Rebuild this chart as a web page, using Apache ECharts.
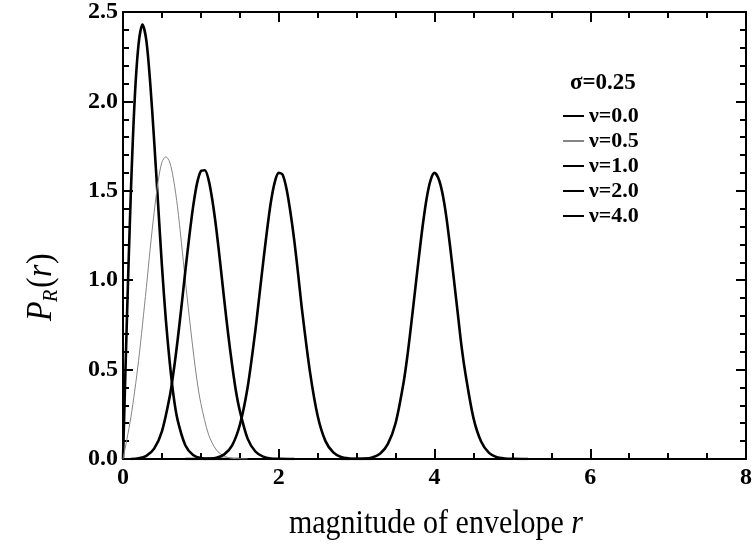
<!DOCTYPE html>
<html>
<head>
<meta charset="utf-8">
<script src="https://cdn.jsdelivr.net/npm/echarts@6/dist/echarts.min.js"></script>
<style>
  html, body { margin: 0; padding: 0; background: #fff; }
  #chart { width: 755px; height: 551px; }
</style>
</head>
<body>
<div id="chart"></div>
<script>
// Rician envelope densities, sigma = 0.25, for several signal amplitudes nu
const seriesNames = ['ν=0.0', 'ν=0.5', 'ν=1.0', 'ν=2.0', 'ν=4.0'];

const r00 = [0, 0.05, 0.1, 0.15, 0.2, 0.25, 0.3, 0.35, 0.4, 0.45, 0.5, 0.55, 0.6, 0.65, 0.7, 0.8, 0.9, 1.0, 1.2, 1.5];
const p00 = [0, 0.78, 1.48, 2.01, 2.32, 2.43, 2.34, 2.10, 1.78, 1.43, 1.08, 0.78, 0.54, 0.35, 0.22, 0.077, 0.022, 0.005, 0, 0];

const r05 = [0, 0.05, 0.1, 0.15, 0.2, 0.25, 0.3, 0.35, 0.4, 0.45, 0.5, 0.55, 0.6, 0.65, 0.7, 0.75, 0.8, 0.85, 0.9, 0.95, 1.0, 1.1, 1.2, 1.3, 1.4, 1.6];
const p05 = [0, 0.11, 0.23, 0.38, 0.55, 0.75, 0.96, 1.18, 1.38, 1.55, 1.66, 1.69, 1.66, 1.56, 1.41, 1.21, 1.00, 0.80, 0.61, 0.44, 0.31, 0.135, 0.050, 0.016, 0.004, 0];

const r10 = [0.1, 0.2, 0.3, 0.4, 0.5, 0.6, 0.65, 0.7, 0.75, 0.8, 0.85, 0.9, 0.95, 1.0, 1.05, 1.1, 1.15, 1.2, 1.25, 1.3, 1.35, 1.4, 1.45, 1.5, 1.6, 1.7, 1.8, 1.9, 2.0, 2.2];
const p10 = [0, 0.004, 0.018, 0.058, 0.155, 0.35, 0.49, 0.66, 0.85, 1.05, 1.24, 1.41, 1.54, 1.61, 1.615, 1.56, 1.44, 1.28, 1.09, 0.89, 0.70, 0.53, 0.38, 0.27, 0.114, 0.042, 0.013, 0.003, 0.001, 0];

const r20 = [0.8, 1.0, 1.1, 1.2, 1.3, 1.4, 1.5, 1.6, 1.7, 1.75, 1.8, 1.85, 1.9, 1.95, 2.0, 2.05, 2.1, 2.15, 2.2, 2.25, 2.3, 2.4, 2.5, 2.6, 2.7, 2.8, 2.9, 3.0, 3.2];
const p20 = [0, 0.0004, 0.002, 0.007, 0.026, 0.075, 0.19, 0.40, 0.72, 0.91, 1.10, 1.28, 1.44, 1.55, 1.60, 1.59, 1.51, 1.38, 1.22, 1.03, 0.83, 0.49, 0.24, 0.10, 0.037, 0.011, 0.003, 0.001, 0];

const r40 = [2.8, 3.0, 3.1, 3.2, 3.3, 3.4, 3.5, 3.6, 3.65, 3.7, 3.75, 3.8, 3.85, 3.9, 3.95, 4.0, 4.05, 4.1, 4.15, 4.2, 4.25, 4.3, 4.35, 4.4, 4.5, 4.6, 4.7, 4.8, 4.9, 5.0, 5.2];
const p40 = [0, 0.0005, 0.002, 0.009, 0.029, 0.083, 0.20, 0.42, 0.57, 0.75, 0.94, 1.13, 1.31, 1.46, 1.56, 1.60, 1.57, 1.49, 1.36, 1.19, 1.00, 0.81, 0.62, 0.47, 0.23, 0.096, 0.034, 0.010, 0.003, 0.001, 0];

const xTicks = [0, 2, 4, 6, 8];
const yTicks = [0, 0.5, 1.0, 1.5, 2.0, 2.5];

const SERIF = '"Liberation Serif", "DejaVu Serif", serif';
const pairs = (r, p) => r.map((x, i) => [x, p[i]]);

const curves = [
  { r: r00, p: p00, color: '#000', width: 2.6 },
  { r: r05, p: p05, color: '#858585', width: 1 },
  { r: r10, p: p10, color: '#000', width: 2.6 },
  { r: r20, p: p20, color: '#000', width: 2.6 },
  { r: r40, p: p40, color: '#000', width: 2.6 }
];

const tickStyle = { color: '#000', width: 2 };

function xAxisDef(pos, showLabels) {
  return {
    type: 'value', position: pos, gridIndex: 0,
    min: xTicks[0], max: xTicks[xTicks.length - 1], interval: 2,
    axisLine: { show: true, onZero: false, lineStyle: { color: '#000', width: 2 } },
    axisTick: { show: true, inside: true, length: 10, lineStyle: tickStyle },
    minorTick: { show: true, splitNumber: 4, length: 6, lineStyle: tickStyle },
    splitLine: { show: false }, minorSplitLine: { show: false },
    axisLabel: {
      show: showLabels, margin: 7, color: '#000',
      fontFamily: SERIF, fontWeight: 'bold', fontSize: 24
    }
  };
}

function yAxisDef(pos, showLabels) {
  return {
    type: 'value', position: pos, gridIndex: 0,
    min: yTicks[0], max: yTicks[yTicks.length - 1], interval: 0.5,
    axisLine: { show: true, onZero: false, lineStyle: { color: '#000', width: 2 } },
    axisTick: { show: true, inside: true, length: 10, lineStyle: tickStyle },
    minorTick: { show: true, splitNumber: 5, length: 6, lineStyle: tickStyle },
    splitLine: { show: false }, minorSplitLine: { show: false },
    axisLabel: {
      show: showLabels, margin: 5, color: '#000',
      fontFamily: SERIF, fontWeight: 'bold', fontSize: 24,
      formatter: v => v.toFixed(1)
    }
  };
}

const chart = echarts.init(document.getElementById('chart'), null, { renderer: 'canvas' });

chart.setOption({
  animation: false,
  backgroundColor: '#fff',
  grid: { left: 123, top: 11, width: 625, height: 448, containLabel: false },
  xAxis: [xAxisDef('bottom', true), xAxisDef('top', false)],
  yAxis: [yAxisDef('left', true), yAxisDef('right', false)],
  legend: {
    orient: 'vertical', left: 557, top: 100,
    itemWidth: 21, itemHeight: 14, itemGap: 3,
    data: seriesNames,
    itemStyle: { color: 'rgba(0,0,0,0)', borderColor: 'rgba(0,0,0,0)', borderWidth: 0, opacity: 0 },
    textStyle: { color: '#000', fontFamily: SERIF, fontWeight: 'bold', fontSize: 22, padding: [0, 0, 0, 0] },
    selectedMode: false
  },
  graphic: [
    {
      type: 'text', left: 570, top: 72,
      style: { text: 'σ=0.25', fill: '#000', font: 'bold 23px ' + SERIF }
    },
    {
      type: 'text', x: 436, y: 524, scaleY: 1.15,
      style: {
        text: 'magnitude of envelope {i|r}',
        fill: '#000', font: '30px ' + SERIF,
        align: 'center', verticalAlign: 'middle',
        rich: { i: { fontStyle: 'italic', fontSize: 30, fontFamily: SERIF } }
      }
    },
    {
      type: 'group', x: 42, y: 284, rotation: Math.PI / 2, scaleY: 1.1,
      children: [
        { type: 'text', x: -37, y: 0, style: { text: 'P', fill: '#000', font: 'italic 32px ' + SERIF, verticalAlign: 'middle' } },
        { type: 'text', x: -18, y: 8, style: { text: 'R', fill: '#000', font: 'italic 20px ' + SERIF, verticalAlign: 'middle' } },
        { type: 'text', x: -4, y: 0, style: { text: '(', fill: '#000', font: '32px ' + SERIF, verticalAlign: 'middle' } },
        { type: 'text', x: 7, y: 0, style: { text: 'r', fill: '#000', font: 'italic 32px ' + SERIF, verticalAlign: 'middle' } },
        { type: 'text', x: 20, y: 0, style: { text: ')', fill: '#000', font: '32px ' + SERIF, verticalAlign: 'middle' } }
      ]
    }
  ],
  series: curves.map((c, i) => ({
    name: seriesNames[i],
    type: 'line',
    xAxisIndex: 0, yAxisIndex: 0,
    data: pairs(c.r, c.p),
    symbol: 'none', showSymbol: false,
    smooth: 0.3,
    clip: true,
    color: c.color,
    itemStyle: { color: c.color },
    lineStyle: { color: c.color, width: c.width }
  }))
});
</script>
</body>
</html>
